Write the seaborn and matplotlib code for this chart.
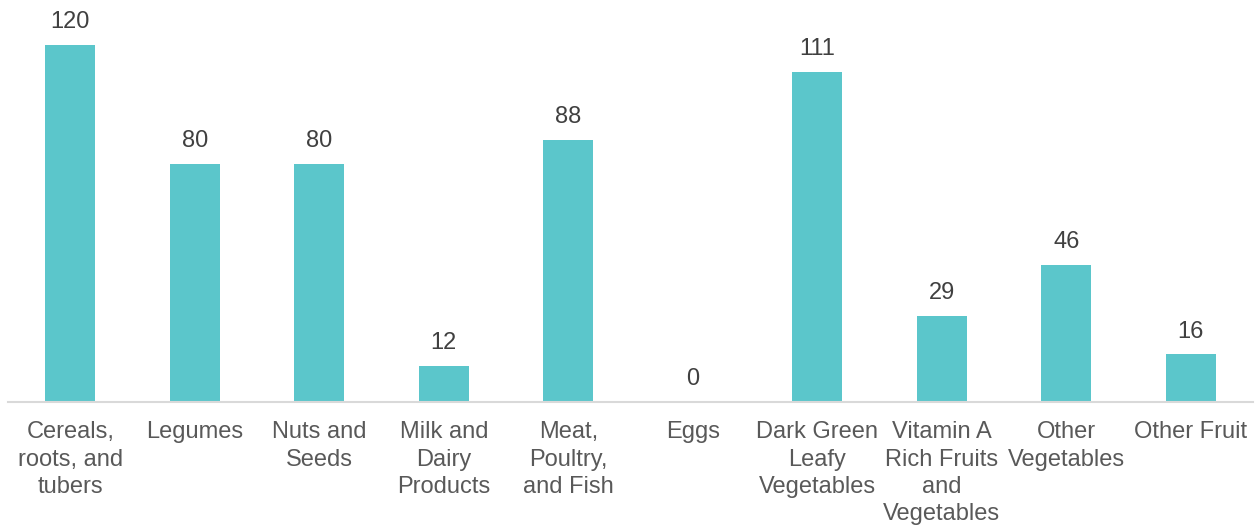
import matplotlib
matplotlib.use("Agg")
import matplotlib.pyplot as plt
import seaborn as sns

categories = [
    "Cereals,\nroots, and\ntubers",
    "Legumes",
    "Nuts and\nSeeds",
    "Milk and\nDairy\nProducts",
    "Meat,\nPoultry,\nand Fish",
    "Eggs",
    "Dark Green\nLeafy\nVegetables",
    "Vitamin A\nRich Fruits\nand\nVegetables",
    "Other\nVegetables",
    "Other Fruit",
]
values = [120, 80, 80, 12, 88, 0, 111, 29, 46, 16]

sns.set_style("white")
plt.rcParams["font.family"] = ["Liberation Sans", "DejaVu Sans"]

W, H = 1260, 529
fig = plt.figure(figsize=(W / 100, H / 100), dpi=100)
ax = fig.add_axes([8 / W, (H - 402) / H, (1253 - 8) / W, (402 - 45) / H])

sns.barplot(x=categories, y=values, color="#5BC6CB", width=0.4, ax=ax,
            saturation=1, edgecolor="none")

ax.set_xlim(-0.5, len(categories) - 0.5)
ax.set_ylim(0, 120)
ax.set_yticks([])
ax.set_ylabel("")
ax.set_xlabel("")
for s in ["left", "right", "top"]:
    ax.spines[s].set_visible(False)
ax.spines["bottom"].set_color("#D9D9D9")
ax.spines["bottom"].set_linewidth(1.5)
ax.set_xticks(range(len(categories)))
ax.set_xticklabels(categories, linespacing=1.31, fontsize=17, color="#595959")
ax.tick_params(axis="x", length=0, pad=14)

for i, v in enumerate(values):
    ax.annotate(f"{v}", xy=(i, v), xytext=(0, 8.5), textcoords="offset points",
                ha="center", va="bottom", fontsize=17, color="#404040",
                annotation_clip=False)

fig.savefig("out.png", dpi=100)
